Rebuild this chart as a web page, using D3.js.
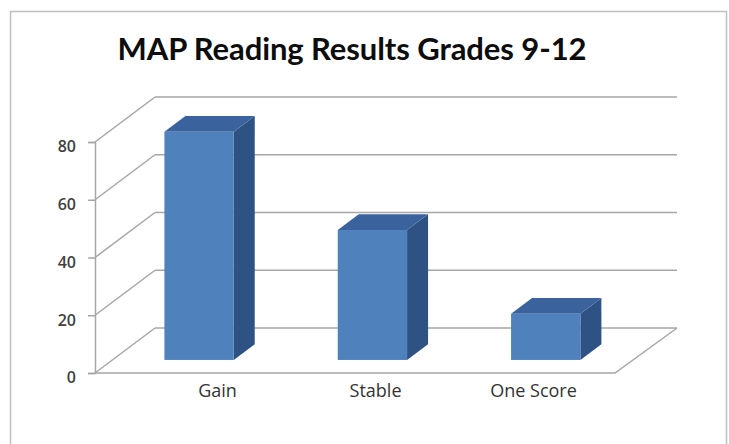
<!DOCTYPE html>
<html>
<head>
<meta charset="utf-8">
<script src="https://cdn.jsdelivr.net/npm/d3@7"></script>
<style>
  body { margin: 0; background: #fff; }
  svg text { font-family: "Open Sans", "Noto Sans", sans-serif; }
</style>
</head>
<body>
<div id="chart"></div>
<script>
// data
var categories = ["Gain", "Stable", "One Score"];
var values = [79, 45, 16];
var yTicks = [0, 20, 40, 60, 80];
var title = "MAP Reading Results Grades 9-12";

var w = 729, h = 444;

// 3d depth of the plot box and where the bars sit inside it
var depthX = 60, depthY = -45;
var barFront = 0.29, barBack = 0.64;

var svg = d3.select("#chart")
            .append("svg")
            .attr("width", w)
            .attr("height", h);

// chart frame
svg.append("rect")
   .attr("x", 10.5).attr("y", 11.5)
   .attr("width", 716).attr("height", 450)
   .attr("fill", "#fff")
   .attr("stroke", "#bfbfbf")
   .attr("stroke-width", 1.5);

svg.append("text")
   .attr("x", 352).attr("y", 60)
   .attr("text-anchor", "middle")
   .style("font-family", "Lato, 'Open Sans', sans-serif")
   .style("font-weight", "bold")
   .style("font-size", "31px")
   .attr("textLength", 469)
   .attr("fill", "#0d0d0d")
   .text(title);

var xScale = d3.scaleBand()
               .domain(categories)
               .range([95, 615])
               .paddingInner(0.6)
               .paddingOuter(0.3);

var yScale = d3.scaleLinear()
               .domain([0, 80])
               .range([373, 142]);

var gridColor = "#a6a6a6";
var x0 = xScale.range()[0], x1 = xScale.range()[1];

// side wall diagonals + back wall gridlines
var grid = svg.append("g").attr("class", "grid")
              .attr("stroke", gridColor).attr("stroke-width", 1.5).attr("fill", "none");

grid.selectAll(".diag")
    .data(yTicks)
    .enter()
    .append("line")
    .attr("x1", x0).attr("y1", function(d) { return yScale(d); })
    .attr("x2", x0 + depthX).attr("y2", function(d) { return yScale(d) + depthY; });

grid.selectAll(".back")
    .data(yTicks)
    .enter()
    .append("line")
    .attr("x1", x0 + depthX).attr("y1", function(d) { return yScale(d) + depthY; })
    .attr("x2", x1 + depthX + 2).attr("y2", function(d) { return yScale(d) + depthY; });

// floor front and right edges
grid.append("path")
    .attr("d", "M" + x0 + "," + yScale(0) + "L" + x1 + "," + yScale(0) +
               "L" + (x1 + depthX + 2) + "," + (yScale(0) + depthY));

// y axis
var yAxis = d3.axisLeft(yScale)
              .tickValues(yTicks)
              .tickSize(7)
              .tickPadding(12);
var ya = svg.append("g")
            .attr("class", "y-axis")
            .attr("transform", "translate(" + x0 + ",0)")
            .call(yAxis);
ya.select(".domain").attr("stroke", gridColor).attr("stroke-width", 1.5);
ya.selectAll(".tick line").attr("stroke", gridColor).attr("stroke-width", 1.5);
ya.selectAll(".tick text")
  .attr("dy", "0.62em")
  .style("font-family", "'Open Sans', sans-serif")
  .style("font-size", "16px")
  .style("font-weight", "600")
  .attr("fill", "#3f3f3f");

// bars
var fx = depthX * barFront, fy = depthY * barFront;
var dX = depthX * (barBack - barFront), dY = depthY * (barBack - barFront);
var bw = xScale.bandwidth();

var bars = svg.selectAll(".bar")
              .data(categories)
              .enter()
              .append("g")
              .attr("class", "bar");

bars.append("path")
    .attr("fill", "#2f5284")
    .attr("d", function(d, i) {
      var l = xScale(d) + fx + bw, t = yScale(values[i]) + fy, b = yScale(0) + fy;
      return "M" + l + "," + t + "L" + (l + dX) + "," + (t + dY) +
             "L" + (l + dX) + "," + (b + dY) + "L" + l + "," + b + "Z";
    });

bars.append("path")
    .attr("fill", "#3a629c")
    .attr("d", function(d, i) {
      var l = xScale(d) + fx, t = yScale(values[i]) + fy;
      return "M" + l + "," + t + "L" + (l + bw) + "," + t +
             "L" + (l + bw + dX) + "," + (t + dY) + "L" + (l + dX) + "," + (t + dY) + "Z";
    });

bars.append("rect")
    .attr("fill", "#4f81bd")
    .attr("x", function(d) { return xScale(d) + fx; })
    .attr("y", function(d, i) { return yScale(values[i]) + fy; })
    .attr("width", bw)
    .attr("height", function(d, i) { return yScale(0) - yScale(values[i]); });

// category labels (sit a little right of the bands, as in the picture)
var labelScale = d3.scalePoint()
                   .domain(categories)
                   .range([217, 533]);
var xa = svg.append("g")
            .attr("class", "x-axis")
            .attr("transform", "translate(0,380)")
            .call(d3.axisBottom(labelScale).tickSize(0).tickPadding(4));
xa.select(".domain").remove();
xa.selectAll(".tick text")
  .style("font-family", "'Open Sans', sans-serif")
  .style("font-size", "18px")
  .attr("fill", "#333");
</script>
</body>
</html>
